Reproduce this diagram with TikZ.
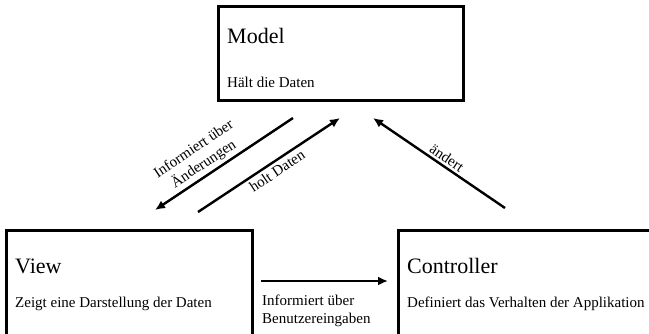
\documentclass[tikz,border=0pt]{standalone}
\usepackage{fontspec}
\setmainfont{Liberation Serif}
\usetikzlibrary{arrows.meta}
\begin{document}
\begin{tikzpicture}[x=1pt,y=-1pt,
  box/.style={draw=black, line width=2.6pt, anchor=north west, inner sep=0pt},
  title/.style={anchor=base west, inner sep=0pt, font=\fontsize{22}{26}\selectfont},
  desc/.style={anchor=base west, inner sep=0pt, font=\fontsize{15}{18}\selectfont},
  lbl/.style={inner sep=0pt, align=center, font=\fontsize{15}{18}\selectfont},
  arr/.style={line width=2.4pt, -{Latex[length=10pt,width=9pt]}}
]
\useasboundingbox (0,0) rectangle (649,333);
\clip (0,0) rectangle (649,333);
% boxes
\node[box, minimum width=245pt, minimum height=94pt] (model) at (217,5) {};
\node[box, minimum width=246pt, minimum height=140pt] (view) at (5,229) {};
\node[box, minimum width=300pt, minimum height=140pt] (ctrl) at (397,229) {};
% texts
\node[title] (mt) at (227,43) {Model};
\node[desc] (md) at (227,87) {Hält die Daten};
\node[title] (vt) at (15,273) {View};
\node[desc] (vd) at (15,307) {Zeigt eine Darstellung der Daten};
\node[title] (ct) at (407,273) {Controller};
\node[desc] (cd) at (407,307) {Definiert das Verhalten der Applikation};
% arrow end points
\coordinate (a1s) at (293,118);
\coordinate (a1e) at (155,210);
\coordinate (a2s) at (198,212);
\coordinate (a2e) at (340,118);
\coordinate (a3s) at (505,208);
\coordinate (a3e) at (373,118);
\coordinate (a4s) at (261,281);
\coordinate (a4e) at (388,281);
\draw[arr] (a1s) -- (a1e);
\draw[arr] (a2s) -- (a2e);
\draw[arr] (a3s) -- (a3e);
\draw[arr] (a4s) -- (a4e);
% labels
\node[lbl, rotate=33.7] (l1) at (199,157) {Informiert über\\Änderungen};
\node[lbl, rotate=33.7] (l2) at (277,171) {holt Daten};
\node[lbl, rotate=-34] (l3) at (447,158) {ändert};
\node[lbl, align=left, anchor=west] (l4) at (262,311) {Informiert über\\Benutzereingaben};
\end{tikzpicture}
\end{document}
